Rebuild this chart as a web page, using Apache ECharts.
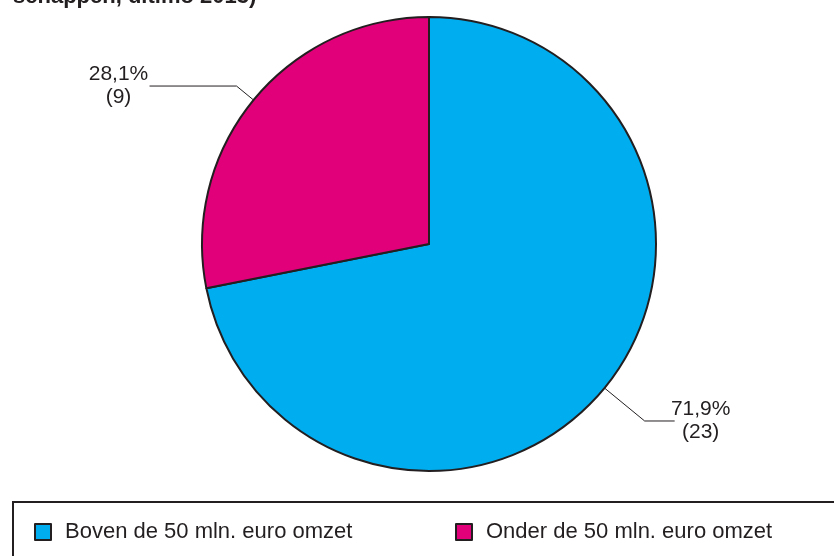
<!DOCTYPE html>
<html>
<head>
<meta charset="utf-8">
<script src="https://cdn.jsdelivr.net/npm/echarts@6/dist/echarts.min.js"></script>
<style>
  html, body { margin: 0; padding: 0; background: #ffffff; }
  #chart { width: 834px; height: 556px; }
</style>
</head>
<body>
<div id="chart"></div>
<script>
// Companies split by turnover (count and share)
const categories = ['Boven de 50 mln. euro omzet', 'Onder de 50 mln. euro omzet'];
const counts = [23, 9];
const percentLabels = ['71,9%', '28,1%'];
const colors = ['#00ADEE', '#E2007A'];
const titleLine = 'schappen, ultimo 2013)';

const ink = '#231F20';
const font = 'Liberation Sans, Arial, sans-serif';

const chart = echarts.init(document.getElementById('chart'), null, { renderer: 'canvas' });

// per-slice leader line lengths
const leader = [
  { length: 52, length2: 30, dist: -5 },
  { length: 22, length2: 87, dist: 0 }
];

const pieData = categories.map((name, i) => ({
  name: name,
  value: counts[i],
  itemStyle: { color: colors[i] },
  labelLine: { length: leader[i].length, length2: leader[i].length2 },
  label: { distanceToLabelLine: leader[i].dist }
}));

const legendText = { fontFamily: font, fontSize: 22, color: ink, padding: [0, 0, 0, 9] };

chart.setOption({
  animation: false,
  backgroundColor: '#ffffff',
  graphic: [
    {
      type: 'text',
      left: 13,
      top: -14,
      style: { text: titleLine, font: 'bold 22px ' + font, fill: ink }
    },
    {
      type: 'rect',
      shape: { x: 13, y: 502, width: 900, height: 100 },
      style: { fill: 'none', stroke: ink, lineWidth: 2 },
      silent: true
    }
  ],
  legend: [
    {
      data: [categories[0]],
      left: 29, top: 516,
      icon: 'rect', itemWidth: 16, itemHeight: 16,
      itemStyle: { borderColor: ink, borderWidth: 2 },
      textStyle: legendText,
      selectedMode: false
    },
    {
      data: [categories[1]],
      left: 450, top: 516,
      icon: 'rect', itemWidth: 16, itemHeight: 16,
      itemStyle: { borderColor: ink, borderWidth: 2 },
      textStyle: legendText,
      selectedMode: false
    }
  ],
  series: [{
    type: 'pie',
    center: [429, 244],
    radius: 227,
    startAngle: 90,
    clockwise: true,
    avoidLabelOverlap: false,
    itemStyle: { borderColor: ink, borderWidth: 2 },
    emphasis: { disabled: true },
    label: {
      show: true,
      position: 'outside',
      color: ink,
      formatter: (p) => '{v|' + percentLabels[p.dataIndex] + '}\n{v|(' + counts[p.dataIndex] + ')}',
      rich: {
        v: { fontFamily: font, fontSize: 21, lineHeight: 23, color: ink, align: 'center', width: 62 }
      }
    },
    labelLine: { show: true, lineStyle: { color: ink, width: 1 } },
    data: pieData
  }]
});
</script>
</body>
</html>
